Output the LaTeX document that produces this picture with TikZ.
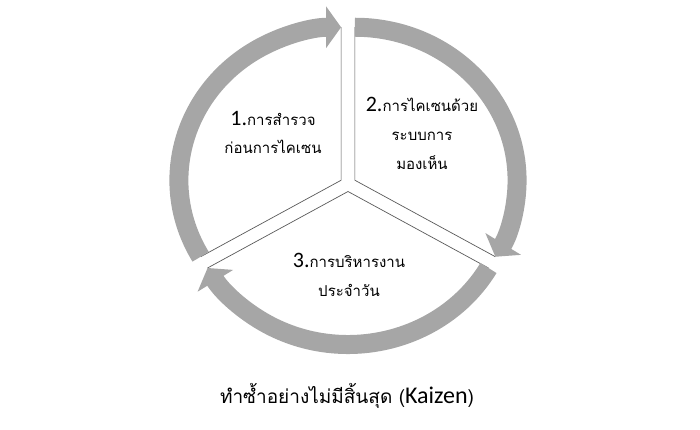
\documentclass[tikz,border=0pt]{standalone}
\usepackage{fontspec}
\newfontfamily\thaifont[Script=Thai]{Loma}
\newfontfamily\latinfont{Carlito}
\usepackage{tikz}
\usetikzlibrary{arrows.meta, positioning}

\definecolor{ringgray}{RGB}{166,166,166}
\definecolor{edgegray}{RGB}{89,89,89}
\newcommand{\stepno}[1]{{\latinfont\fontsize{22}{22}\selectfont #1}}

\begin{document}
\begin{tikzpicture}[x=1pt,y=1pt,
    ring/.style={ringgray, line width=19pt, -{Triangle[length=15pt,width=41pt]}},
    edge/.style={edgegray, line width=0.7pt},
    txt/.style={font=\thaifont\fontsize{15}{18}\selectfont, anchor=base, inner sep=0pt}]
    \useasboundingbox (0,0) rectangle (700,430);

    \begin{scope}[shift={(348,246)}, xscale=1.06]
        \coordinate (c1) at (150:7.5);
        \coordinate (c2) at (30:7.5);
        \coordinate (c3) at (270:7.5);
        \path (c1) ++(90:153) coordinate (t1) (c1) ++(210:153) coordinate (l1);
        \path (c2) ++(90:153) coordinate (t2) (c2) ++(-30:153) coordinate (r2);
        \path (c3) ++(-30:153) coordinate (r3) (c3) ++(210:153) coordinate (l3);

        \draw[edge] (t1) -- (c1) -- (l1);
        \draw[edge] (t2) -- (c2) -- (r2);
        \draw[edge] (r3) -- (c3) -- (l3);

        \draw[ring] (l1) arc[start angle=210, end angle=90, radius=153];
        \draw[ring] (t2) arc[start angle=90, end angle=-30, radius=153];
        \draw[ring] (r3) arc[start angle=-30, end angle=-150, radius=153];
    \end{scope}

    \node[txt] (s1a) at (273,304) {\stepno{1.}การสำรวจ};
    \node[txt] (s1b) at ([yshift=-27.5pt]s1a.base) {ก่อนการไคเซน};

    \node[txt] (s2a) at (422,318) {\stepno{2.}การไคเซนด้วย};
    \node[txt] (s2b) at ([yshift=-29pt]s2a.base) {ระบบการ};
    \node[txt] (s2c) at ([yshift=-29pt]s2b.base) {มองเห็น};

    \node[txt] (s3a) at (349,162) {\stepno{3.}การบริหารงาน};
    \node[txt] (s3b) at ([yshift=-28.5pt]s3a.base) {ประจำวัน};

    \node[txt, font=\thaifont\fontsize{19}{22}\selectfont] (loop) at (347,26)
        {ทำซ้ำอย่างไม่มีสิ้นสุด ({\latinfont\fontsize{24}{24}\selectfont Kaizen})};
\end{tikzpicture}
\end{document}
